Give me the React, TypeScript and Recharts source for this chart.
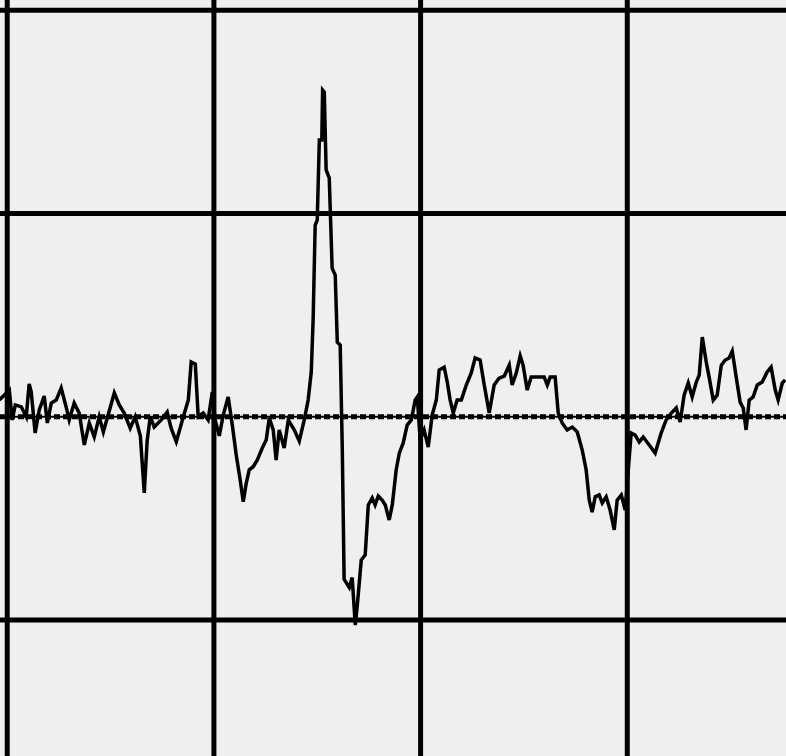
import React from "react";
import { LineChart, Line, XAxis, YAxis, ReferenceLine } from "recharts";

// time in ms (100 ms per division)
const timeMs: number[] = [
  -3.9, -1.5, 1.0, 2.4, 3.9, 6.8, 9.2, 10.6, 11.6, 13.5, 15.5, 17.9, 19.4, 21.3, 23.7, 26.1, 28.5, 30.0, 32.4, 34.8,
  37.3, 39.7, 42.1, 44.5, 46.5, 48.4, 51.8, 54.2, 56.6, 59.5, 61.9, 64.4, 66.3, 67.7, 69.2, 71.1, 74.5, 77.4, 79.3, 81.8,
  85.2, 87.6, 89.0, 91.0, 92.4, 94.8, 97.2, 99.2, 100.6, 102.6, 104.5, 106.9, 108.9, 110.8, 112.7, 114.2, 115.6, 117.1, 119.0, 121.0,
  123.4, 125.3, 126.8, 128.7, 130.1, 131.6, 134.0, 136.0, 138.9, 141.3, 143.7, 145.6, 147.1, 148.0, 149.0, 150.0, 151.0, 152.2, 152.6, 153.4,
  154.3, 155.8, 157.2, 158.7, 159.7, 161.1, 162.1, 163.0, 165.5, 166.9, 168.4, 169.3, 171.3, 173.2, 174.7, 176.6, 178.0, 179.5, 181.4, 182.9,
  184.8, 186.3, 188.2, 189.7, 191.6, 193.5, 195.5, 197.4, 198.4, 199.8, 201.7, 203.7, 205.6, 207.6, 209.0, 211.4, 212.9, 214.3, 215.8, 217.7,
  219.7, 222.1, 224.5, 226.4, 228.8, 230.8, 233.2, 235.6, 238.0, 240.5, 242.9, 244.3, 246.3, 248.2, 249.6, 251.6, 253.5, 259.8, 261.3, 262.7,
  265.1, 266.6, 268.5, 270.9, 273.4, 275.8, 278.2, 280.1, 281.6, 283.0, 284.5, 286.4, 287.9, 289.8, 291.7, 293.7, 295.1, 297.1, 299.0, 300.5,
  301.9, 303.8, 305.8, 307.7, 310.6, 313.5, 316.4, 318.8, 321.3, 323.7, 325.6, 327.5, 329.5, 331.4, 333.4, 334.8, 336.3, 338.2, 339.6, 341.6,
  343.5, 345.5, 347.4, 349.3, 350.8, 352.7, 354.6, 356.1, 357.5, 359.0, 360.9, 362.9, 365.3, 367.7, 369.6, 371.6, 373.0, 375.0, 376.4,
];

// signal in mV (1 mV per division)
const signalMv: number[] = [
  0.082, 0.106, 0.131, -0.016, 0.058, 0.048, 0.0, 0.161, 0.122, -0.08, 0.033, 0.102, -0.031, 0.067, 0.082, 0.141, 0.048, -0.016, 0.067, 0.018,
  -0.139, -0.031, -0.099, 0.0, -0.075, -0.006, 0.117, 0.058, 0.018, -0.056, 0.0, -0.094, -0.375, -0.118, 0.0, -0.051, -0.016, 0.023, -0.056, -0.123,
  0.0, 0.082, 0.269, 0.259, 0.0, 0.018, -0.016, 0.122, -0.016, -0.094, 0.008, 0.097, -0.041, -0.188, -0.31, -0.418, -0.329, -0.261, -0.246, -0.213,
  -0.154, -0.114, -0.006, -0.065, -0.213, -0.065, -0.154, -0.016, -0.065, -0.12, -0.016, 0.082, 0.22, 0.476, 0.943, 0.967, 1.361, 1.361, 1.607, 1.597,
  1.214, 1.175, 0.731, 0.697, 0.367, 0.353, -0.149, -0.8, -0.84, -0.791, -1.025, -0.936, -0.705, -0.68, -0.434, -0.4, -0.434, -0.39, -0.41, -0.434,
  -0.508, -0.434, -0.261, -0.179, -0.129, -0.041, -0.016, 0.082, 0.097, -0.114, -0.065, -0.149, 0.008, 0.082, 0.23, 0.244, 0.171, 0.082, 0.018, 0.082,
  0.082, 0.156, 0.215, 0.289, 0.279, 0.156, 0.018, 0.156, 0.19, 0.2, 0.254, 0.156, 0.215, 0.299, 0.254, 0.131, 0.195, 0.195, 0.156, 0.195,
  0.195, 0.018, -0.031, -0.065, -0.051, -0.075, -0.164, -0.261, -0.41, -0.469, -0.394, -0.385, -0.424, -0.394, -0.459, -0.557, -0.41, -0.385, -0.459, -0.261,
  -0.08, -0.09, -0.124, -0.1, -0.139, -0.179, -0.08, -0.016, 0.018, 0.043, -0.026, 0.106, 0.166, 0.097, 0.171, 0.205, 0.392, 0.269, 0.195, 0.082,
  0.106, 0.254, 0.279, 0.289, 0.323, 0.195, 0.072, 0.043, -0.065, 0.082, 0.097, 0.156, 0.171, 0.22, 0.244, 0.131, 0.082, 0.166, 0.181,
];

const timeGrid: number[] = [0, 100, 200, 300];
const voltGrid: number[] = [2, 1, -1];
const timeDomain: [number, number] = [-3.5, 376.8];
const voltDomain: [number, number] = [-1.669, 2.05];

const data = timeMs.map((t, i) => ({ t, v: signalMv[i] }));

export default function App() {
  return (
    <div
      style={{
        position: "absolute",
        left: 0,
        top: 0,
        width: 786,
        height: 756,
        background: "#efefef",
        overflow: "hidden",
      }}
    >
      <LineChart width={786} height={756} data={data} margin={{ top: 0, right: 0, bottom: 0, left: 0 }}>
        <XAxis type="number" dataKey="t" domain={timeDomain} allowDataOverflow hide />
        <YAxis type="number" domain={voltDomain} allowDataOverflow hide />
        {timeGrid.map((t) => (
          <ReferenceLine key={"x" + t} x={t} stroke="#000" strokeWidth={5} />
        ))}
        {voltGrid.map((v) => (
          <ReferenceLine key={"y" + v} y={v} stroke="#000" strokeWidth={5} />
        ))}
        <ReferenceLine y={0} stroke="#000" strokeWidth={2} />
        <ReferenceLine y={0} stroke="#000" strokeWidth={5} strokeDasharray="6 3" />
        <Line
          type="linear"
          dataKey="v"
          stroke="#000"
          strokeWidth={3.5}
          dot={false}
          isAnimationActive={false}
          strokeLinejoin="miter"
        />
      </LineChart>
    </div>
  );
}
